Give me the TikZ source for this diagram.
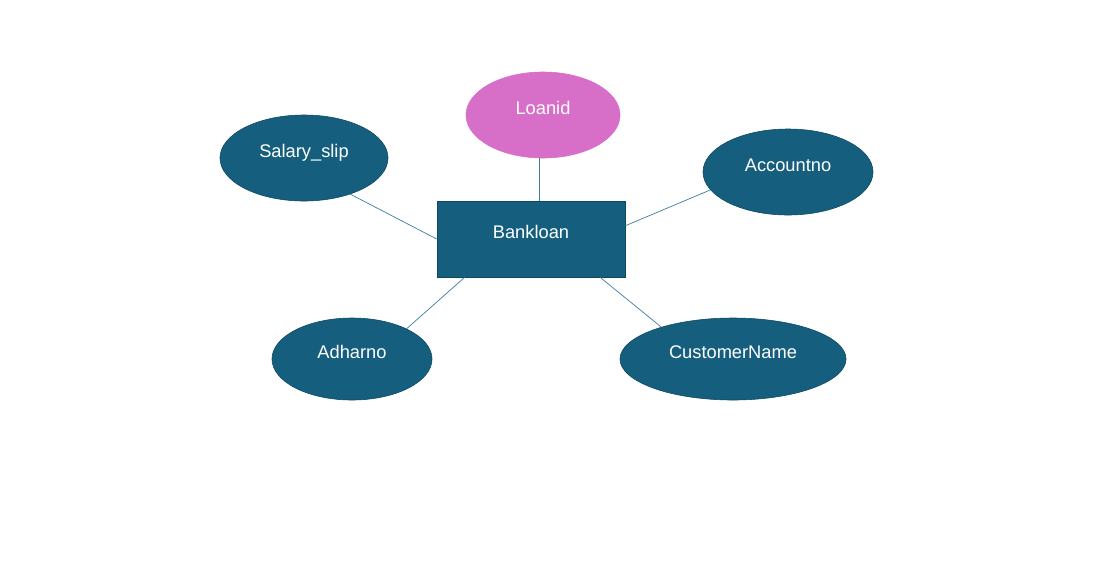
\documentclass[tikz,border=0pt]{standalone}
\usepackage{fontspec}
\setmainfont{Liberation Sans}
\usetikzlibrary{shapes.geometric}
\definecolor{erteal}{HTML}{155E7D}
\definecolor{erborder}{HTML}{0E4860}
\definecolor{erpink}{HTML}{D76FC9}
\definecolor{erline}{HTML}{3E7E9E}
\begin{document}
\begin{tikzpicture}[x=0.025cm,y=-0.025cm,
  attr/.style={ellipse,draw=erborder,fill=erteal,text=white,inner sep=0pt,
    text depth=10pt,font=\fontsize{13}{15}\selectfont},
  keyattr/.style={attr,draw=erpink,fill=erpink},
  entity/.style={rectangle,draw=erborder,fill=erteal,text=white,inner sep=0pt,
    text depth=10pt,font=\fontsize{13}{15}\selectfont,
    minimum width=4.7cm,minimum height=1.9cm},
  link/.style={draw=erline,line width=0.5pt}]
\useasboundingbox[fill=white] (0,0) rectangle (1119,568);

\node[entity] (bank) at (531,239) {Bankloan};

\node[keyattr,minimum width=3.85cm,minimum height=2.15cm] (loan) at (543,115) {Loanid};
\node[attr,minimum width=4.2cm,minimum height=2.15cm] (salary) at (304,158) {Salary\_slip};
\node[attr,minimum width=4.25cm,minimum height=2.15cm] (account) at (788,172) {Accountno};
\node[attr,minimum width=4cm,minimum height=2.05cm] (adhar) at (352,359) {Adharno};
\node[attr,minimum width=5.65cm,minimum height=2.05cm] (customer) at (733,359) {CustomerName};

\draw[link] ([xshift=-2.5]loan.south) -- ([xshift=-2.5]loan.south |- bank.north);
\draw[link] (salary.-38) -- (bank.west);
\draw[link] (account.193) -- (bank.8.5);
\draw[link] (adhar.29) -- (bank.210);
\draw[link] (customer.156) -- (bank.-29);
\end{tikzpicture}
\end{document}
